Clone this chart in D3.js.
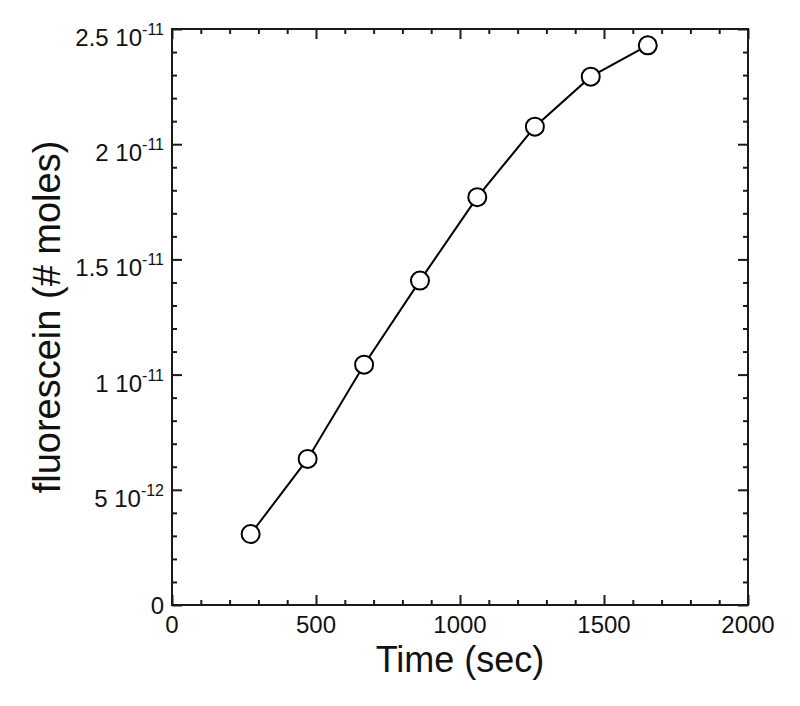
<!DOCTYPE html>
<html>
<head>
<meta charset="utf-8">
<script src="https://cdn.jsdelivr.net/npm/d3@7"></script>
<style>
  html, body { margin: 0; padding: 0; background: #fff; }
  svg { display: block; font-family: "Liberation Sans", Arial, sans-serif; }
</style>
</head>
<body>
<svg id="chart" width="800" height="706"></svg>
<script>
// ---- data ----
const timeSec = [273, 471, 667, 861, 1060, 1260, 1454, 1652];
const fluoresceinMoles = [3.08e-12, 6.34e-12, 1.043e-11, 1.408e-11, 1.770e-11, 2.076e-11, 2.293e-11, 2.429e-11];

const xMajorTicks = [0, 500, 1000, 1500, 2000];
const xTickLabels = ["0", "500", "1000", "1500", "2000"];
const yMajorTicks = [0, 5e-12, 1e-11, 1.5e-11, 2e-11, 2.5e-11];
const yTickMantissa = ["0", "5", "1", "1.5", "2", "2.5"];
const yTickExponent = ["", "-12", "-11", "-11", "-11", "-11"];

const xLabel = "Time (sec)";
const yLabel = "fluorescein (# moles)";

// ---- layout ----
const margin = { left: 172, top: 29 };
const W = 576, H = 576;

const svg = d3.select("#chart");
const g = svg.append("g").attr("transform", `translate(${margin.left},${margin.top})`);

const x = d3.scaleLinear().domain([0, 2000]).range([0, W]);
const y = d3.scaleLinear().domain([0, 2.5e-11]).range([H, 0]);

const xMinor = d3.range(0, 2001, 100).filter(v => v % 500 !== 0);
const yMinor = d3.range(0, 26).map(i => i * 1e-12).filter((v, i) => i % 5 !== 0);

const axisColor = "#1a1a1a";

function styleAxis(sel) {
  sel.select(".domain").remove();
  sel.selectAll(".tick line").attr("stroke", axisColor).attr("stroke-width", 2);
  sel.selectAll(".tick text").remove();
}

// major + minor ticks on all four sides, pointing inward
[[d3.axisBottom, x, xMajorTicks, 10, `translate(0,${H})`, -1],
 [d3.axisBottom, x, xMinor, 5, `translate(0,${H})`, -1],
 [d3.axisTop, x, xMajorTicks, 10, `translate(0,0)`, -1],
 [d3.axisTop, x, xMinor, 5, `translate(0,0)`, -1],
 [d3.axisLeft, y, yMajorTicks, 10, `translate(0,0)`, -1],
 [d3.axisLeft, y, yMinor, 5, `translate(0,0)`, -1],
 [d3.axisRight, y, yMajorTicks, 10, `translate(${W},0)`, -1],
 [d3.axisRight, y, yMinor, 5, `translate(${W},0)`, -1]
].forEach(([fn, sc, vals, len, tr]) => {
  g.append("g").attr("transform", tr)
    .call(fn(sc).tickValues(vals).tickSize(-len).tickFormat(""))
    .call(styleAxis);
});

// frame
g.append("rect")
  .attr("x", 0).attr("y", 0).attr("width", W).attr("height", H)
  .attr("fill", "none").attr("stroke", axisColor).attr("stroke-width", 2);

// x tick labels
g.append("g").selectAll("text")
  .data(xMajorTicks)
  .join("text")
  .attr("x", d => x(d))
  .attr("y", H + 28)
  .attr("text-anchor", "middle")
  .attr("font-size", 24)
  .attr("fill", "#111")
  .text((d, i) => xTickLabels[i]);

// y tick labels with superscript exponents
const yl = g.append("g").selectAll("text")
  .data(yMajorTicks)
  .join("text")
  .attr("x", -8)
  .attr("y", (d, i) => y(d) + (yTickExponent[i] ? 17 : 8.5))
  .attr("text-anchor", "end")
  .attr("font-size", 24)
  .attr("fill", "#111");
yl.each(function(d, i) {
  const t = d3.select(this);
  if (yTickExponent[i]) {
    t.append("tspan").text(yTickMantissa[i] + " 10");
    t.append("tspan").attr("font-size", 16).attr("dy", -11).text(yTickExponent[i]);
  } else {
    t.append("tspan").text(yTickMantissa[i]);
  }
});

// line
const pts = timeSec.map((t, i) => [t, fluoresceinMoles[i]]);
g.append("path")
  .datum(pts)
  .attr("fill", "none")
  .attr("stroke", "#000")
  .attr("stroke-width", 2)
  .attr("d", d3.line().x(d => x(d[0])).y(d => y(d[1])));

// markers
g.append("g").selectAll("circle")
  .data(pts)
  .join("circle")
  .attr("cx", d => x(d[0]))
  .attr("cy", d => y(d[1]))
  .attr("r", 9)
  .attr("fill", "#fff")
  .attr("stroke", "#000")
  .attr("stroke-width", 2);

// axis titles
svg.append("text")
  .attr("x", margin.left + W / 2)
  .attr("y", 672)
  .attr("text-anchor", "middle")
  .attr("font-size", 36)
  .attr("fill", "#111")
  .text(xLabel);

svg.append("text")
  .attr("transform", `translate(60,${margin.top + H / 2}) rotate(-90)`)
  .attr("text-anchor", "middle")
  .attr("font-size", 38)
  .attr("fill", "#111")
  .text(yLabel);
</script>
</body>
</html>
